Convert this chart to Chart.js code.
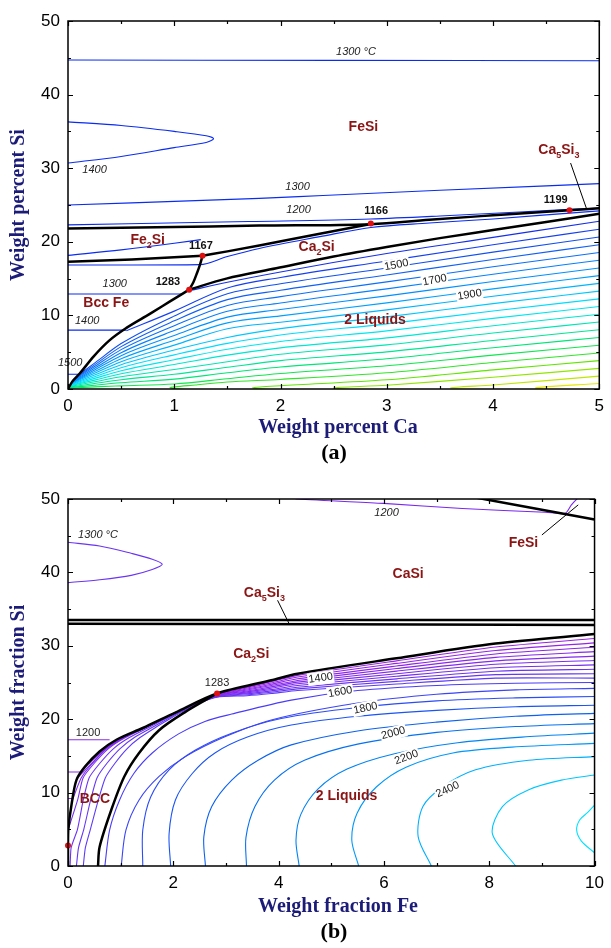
<!DOCTYPE html>
<html>
<head>
<meta charset="utf-8">
<script src="https://cdn.jsdelivr.net/npm/chart.js@4"></script>
<style>
  body { margin: 0; background: #fff; width: 611px; height: 948px; overflow: hidden; position: relative; }
  canvas { position: absolute; left: 0; }
</style>
</head>
<body>
<canvas id="chartA" width="611" height="470" style="top:0"></canvas>
<canvas id="chartB" width="611" height="478" style="top:470px"></canvas>
<script>
// ---------- panel (a): weight percent Ca vs weight percent Si ----------
const aIso1300Top = [[0, 44.7], [2.5, 44.65], [5, 44.6]];
const aLoop1400 = [[0, 36.3], [0.5, 35.8], [1.0, 35.0], [1.3, 34.4], [1.37, 34.0], [1.3, 33.5], [1.0, 32.8], [0.5, 31.6], [0, 30.7]];
const aIso1300 = [[0, 25.0], [1.8, 25.9], [2.4, 26.3], [3.5, 27.0], [5, 27.9]];
const aIso1200 = [[0, 22.3], [1.7, 22.75], [2.85, 23.1], [3.5, 23.5], [4.72, 24.4], [5, 24.6]];
const aFe2SiUpper = [[0, 18.15], [0.5, 18.9], [1.0, 19.8], [1.25, 20.3]];
const aFe2SiLower = [[0, 16.85], [0.6, 16.85], [1.24, 16.9], [1.5, 18.0], [1.8, 19.1], [2.37, 20.7], [2.85, 21.95], [3.4, 22.55], [4.0, 23.1], [4.72, 23.9], [5, 24.2]];
const aBcc1300 = [[0, 12.9], [1.08, 12.9]];
const aBcc1400 = [[0, 8.0], [0.55, 8.0]];
const aBcc1500 = [[0, 2.0], [0.1, 2.0]];

const aFe2SiTop = [[0, 21.8], [1.0, 22.0], [1.8, 22.2], [2.85, 22.4], [3.4, 23.0], [4.0, 23.6], [4.72, 24.3], [5, 24.55]];
const aFe2SiBottom = [[0, 17.3], [0.6, 17.6], [1.266, 18.1]];
const aCa2SiTop = [[1.266, 18.1], [1.5, 18.7], [1.8, 19.5], [2.37, 21.1], [2.85, 22.4]];
const aPeritectic = [[1.266, 18.1], [1.24, 16.8], [1.21, 15.6], [1.18, 14.5], [1.14, 13.5]];
const aLiquidusLow = [[0, 0], [0.04, 1.0], [0.11, 2.1], [0.24, 4.4], [0.39, 6.6], [0.55, 8.3], [0.77, 10.2], [0.96, 11.9], [1.14, 13.5]];
const aLiquidusHigh = [[1.14, 13.5], [1.49, 15.0], [1.96, 16.4], [2.5, 18.0], [3, 19.3], [3.5, 20.5], [4, 21.6], [4.5, 22.7], [5, 23.8]];
const aPointer = [[4.73, 30.7], [4.88, 24.5]];
const aInvariants = [[1.266, 18.1], [1.14, 13.5], [2.85, 22.5], [4.72, 24.3]];

// isotherms in the two-liquid field, top to bottom
const aLiquidContours = [
  [[1.14, 13.35], [1.5, 14.5], [2, 15.9], [3, 18.4], [4, 20.6], [5, 22.8]],
  [[0.55, 7.9], [1, 10.58], [1.5, 13.72], [2, 15.16], [3, 17.4], [4, 19.6], [5, 21.7]],
  [[0.1, 1.9], [0.25, 3.51], [0.5, 6.17], [1, 9.92], [1.5, 12.93], [2, 14.29], [3, 16.45], [4, 18.6], [5, 20.65]],
  [[0.065, 1.4], [0.25, 3.28], [0.5, 5.76], [1, 9.26], [1.5, 12.14], [2, 13.42], [3, 15.5], [4, 17.6], [5, 19.6]],
  [[0.055, 1.25], [0.25, 3.05], [0.5, 5.35], [1, 8.6], [1.5, 11.35], [2, 12.55], [3, 14.55], [4, 16.6], [5, 18.55]],
  [[0.048, 1.1], [0.25, 2.82], [0.5, 4.94], [1, 7.94], [1.5, 10.56], [2, 11.68], [3, 13.6], [4, 15.6], [5, 17.5]],
  [[0.042, 0.95], [0.25, 2.59], [0.5, 4.53], [1, 7.28], [1.5, 9.77], [2, 10.81], [3, 12.65], [4, 14.6], [5, 16.45]],
  [[0.036, 0.85], [0.25, 2.36], [0.5, 4.12], [1, 6.62], [1.5, 8.98], [2, 9.94], [3, 11.7], [4, 13.6], [5, 15.4]],
  [[0.031, 0.75], [0.25, 2.13], [0.5, 3.71], [1, 5.96], [1.5, 8.19], [2, 9.07], [3, 10.75], [4, 12.6], [5, 14.35]],
  [[0.027, 0.65], [0.25, 1.9], [0.5, 3.3], [1, 5.3], [1.5, 7.0], [2, 8.2], [3, 9.8], [4, 11.6], [5, 13.3]],
  [[0.023, 0.55], [0.25, 1.67], [0.5, 2.89], [1, 4.64], [1.5, 6.2], [2, 7.33], [3, 8.85], [4, 10.6], [5, 12.25]],
  [[0.019, 0.47], [0.25, 1.44], [0.5, 2.48], [1, 3.98], [1.5, 5.4], [2, 6.46], [3, 7.9], [4, 9.6], [5, 11.2]],
  [[0.016, 0.4], [0.25, 1.21], [0.5, 2.07], [1, 3.32], [1.5, 4.6], [2, 5.59], [3, 6.95], [4, 8.6], [5, 10.15]],
  [[0.013, 0.32], [0.25, 0.98], [0.5, 1.66], [1, 2.66], [1.5, 3.7], [2, 4.72], [3, 6.0], [4, 7.6], [5, 9.1]],
  [[0.01, 0.25], [0.25, 0.75], [0.5, 1.25], [1, 2.0], [1.5, 2.95], [2, 3.85], [3, 5.05], [4, 6.6], [5, 8.05]],
  [[0.007, 0.18], [0.25, 0.52], [0.5, 0.84], [1, 1.34], [1.5, 2.2], [2, 2.98], [3, 4.1], [4, 5.6], [5, 7.0]],
  [[0.004, 0.1], [0.25, 0.29], [0.5, 0.43], [1, 0.68], [1.5, 1.4], [2, 2.11], [3, 3.15], [4, 4.6], [5, 5.95]],
  [[1.3, -0.3], [0.96, 0.15], [1.2, 0.55], [1.5, 0.95], [2, 1.3], [3, 2.2], [4, 3.6], [5, 4.9]],
  [[2.1, -0.3], [1.74, 0.15], [2, 0.45], [3, 1.25], [4, 2.6], [5, 3.85]],
  [[2.9, -0.3], [2.5, 0.15], [3, 0.5], [4, 1.6], [5, 2.8]],
  [[4.0, -0.3], [3.6, 0.15], [4, 0.55], [5, 1.75]],
  [[4.8, -0.3], [4.4, 0.15], [5, 0.75]]
];
const aContourColors = ['#1530e8', '#1540f0', '#1050f0', '#1060f5', '#0a70fa', '#0580ff', '#0090ff', '#00a0ff', '#00b4ff', '#00c8ff', '#00dcff', '#00e6f0',
  '#00e6d2', '#00e6b4', '#00e696', '#00e678', '#10e650', '#30e628', '#60e600', '#90e600', '#c0e600', '#e6e600'];

const aLabels = [
  { t: 'FeSi', x: 2.78, y: 35.6, s: 'phase' },
  { t: 'Ca_5Si_3', x: 4.62, y: 32.5, s: 'phase' },
  { t: 'Fe_2Si', x: 0.75, y: 20.2, s: 'phase' },
  { t: 'Ca_2Si', x: 2.34, y: 19.3, s: 'phase' },
  { t: 'Bcc Fe', x: 0.36, y: 11.7, s: 'phase' },
  { t: '2 Liquids', x: 2.89, y: 9.3, s: 'phase' },
  { t: '1167', x: 1.25, y: 19.5, s: 'temp' },
  { t: '1283', x: 0.94, y: 14.5, s: 'temp' },
  { t: '1166', x: 2.9, y: 24.2, s: 'temp' },
  { t: '1199', x: 4.59, y: 25.7, s: 'temp' },
  { t: '1300 °C', x: 2.71, y: 45.8, s: 'iso' },
  { t: '1400', x: 0.25, y: 29.7, s: 'iso' },
  { t: '1300', x: 2.16, y: 27.4, s: 'iso' },
  { t: '1200', x: 2.17, y: 24.3, s: 'iso' },
  { t: '1300', x: 0.44, y: 14.3, s: 'iso' },
  { t: '1400', x: 0.18, y: 9.3, s: 'iso' },
  { t: '1500', x: 0.02, y: 3.5, s: 'iso' },
  { t: '1500', x: 3.09, y: 16.85, s: 'ctr', r: -11, bg: true },
  { t: '1700', x: 3.45, y: 14.8, s: 'ctr', r: -11, bg: true },
  { t: '1900', x: 3.78, y: 12.8, s: 'ctr', r: -9, bg: true }
];

// ---------- panel (b): weight fraction Fe vs weight fraction Si ----------
const bLoop1300 = [[0, 44.1], [0.6, 43.6], [1.2, 42.6], [1.6, 41.8], [1.79, 41.1], [1.6, 40.4], [1.2, 39.6], [0.6, 39.0], [0, 38.6]];
const bIso1200Top = [[4.2, 50.3], [4.36, 50.0], [5.99, 49.4], [7.49, 48.7], [9.06, 48.2], [9.44, 48.05], [9.56, 49.2], [9.69, 50.2]];
const bBcc1200 = [[0, 17.2], [0.79, 17.2]];
const bBcc1300 = [[0, 12.8], [0.29, 12.8]];
const bBcc1400 = [[0, 9.2], [0.1, 9.2]];

const bLiquidus = [[0, 0], [0, 2.8], [0.005, 4.9], [0.07, 8.5], [0.16, 11.7], [0.32, 13.5], [0.6, 15.6], [0.92, 17.2], [1.42, 18.8], [2.04, 20.9], [2.83, 23.5], [3.86, 25.3], [4.36, 26.2], [6.24, 28.3], [8.12, 30.3], [10, 31.6]];
const bSolvus = [[0.57, 0], [0.6, 2.6], [0.82, 7.6], [1.07, 12.2], [1.35, 15.4], [1.73, 18.5], [2.23, 21.0], [2.83, 23.5]];
const bCa5Si3Top = [[0, 33.5], [10, 33.5]];
const bCa5Si3Bottom = [[0, 33.0], [10, 32.85]];
const bFeSiLine = [[7.74, 50.2], [10, 47.2]];
const bPointerCa5Si3 = [[3.98, 36.2], [4.2, 33.0]];
const bPointerFeSi = [[9.0, 45.1], [9.69, 49.2]];
const bInvariants = [[2.83, 23.5], [0, 2.8]];

// isotherms squeezed between liquidus and solvus, top to bottom
const bNarrowContours = [
  [[1.48, 19], [1.774, 20], [2.072, 21], [2.371, 22], [2.83, 23.45], [3.4, 24.37], [3.86, 25.12], [4.36, 25.97], [6.24, 27.95], [8.12, 29.83], [10, 31.0]],
  [[1.02, 17.5], [1.489, 19], [1.776, 20], [2.074, 21], [2.372, 22], [2.83, 23.4], [3.4, 24.24], [3.86, 24.94], [4.36, 25.74], [6.24, 27.6], [8.12, 29.36], [10, 30.4]],
  [[0.68, 16], [1.04, 17.5], [1.49, 19], [1.779, 20], [2.076, 21], [2.373, 22], [2.83, 23.35], [3.4, 24.11], [3.86, 24.76], [4.36, 25.51], [6.24, 27.25], [8.12, 28.89], [10, 29.8]],
  [[0.4, 14], [0.713, 16], [1.046, 17.5], [1.496, 19], [1.781, 20], [2.077, 21], [2.374, 22], [2.83, 23.3], [3.4, 23.98], [3.86, 24.58], [4.36, 25.28], [6.24, 26.9], [8.12, 28.42], [10, 29.2]],
  [[0.18, 12], [0.449, 14], [0.724, 16], [1.055, 17.5], [1.5, 19], [1.785, 20], [2.08, 21], [2.376, 22], [2.83, 23.25], [3.4, 23.85], [3.86, 24.4], [4.36, 25.05], [6.24, 26.55], [8.12, 27.95], [10, 28.6]],
  [[0.085, 9], [0.25, 12], [0.466, 14], [0.739, 16], [1.066, 17.5], [1.508, 19], [1.79, 20], [2.083, 21], [2.378, 22], [2.83, 23.2], [3.4, 23.72], [3.86, 24.22], [4.36, 24.82], [6.24, 26.2], [8.12, 27.48], [10, 28.0]],
  [[0.005, 5], [0.183, 9], [0.286, 12], [0.498, 14], [0.769, 16], [1.09, 17.5], [1.522, 19], [1.8, 20], [2.089, 21], [2.382, 22], [2.83, 23.15], [3.4, 23.59], [3.86, 24.04], [4.36, 24.59], [6.24, 25.85], [8.12, 27.01], [10, 27.4]],
  [[0.04, 0], [0.06, 2.5], [0.18, 5], [0.29, 9], [0.4, 12], [0.605, 14], [0.865, 16], [1.165, 17.5], [1.57, 19], [1.83, 20], [2.11, 21], [2.395, 22], [2.83, 23.1], [3.4, 23.46], [3.86, 23.86], [4.36, 24.36], [6.24, 25.5], [8.12, 26.54], [10, 26.8]],
  [[0.16, 0], [0.2, 2.5], [0.3, 5], [0.43, 9], [0.55, 12], [0.74, 14], [0.99, 16], [1.26, 17.5], [1.63, 19], [1.875, 20], [2.137, 21], [2.41, 22], [2.83, 23.05], [3.4, 23.33], [3.86, 23.68], [4.36, 24.13], [6.24, 25.15], [8.12, 26.07], [10, 26.2]],
  [[0.29, 0], [0.33, 2.5], [0.425, 5], [0.577, 9], [0.708, 12], [0.892, 14], [1.124, 16], [1.368, 17.5], [1.69, 19], [1.92, 20], [2.166, 21], [2.43, 22], [2.83, 23.0], [3.4, 23.2], [3.86, 23.5], [4.36, 23.9], [6.24, 24.8], [8.12, 25.6], [10, 25.6]]
];
const bNarrowColors = ['#9a22e6', '#9424e8', '#8e26ea', '#8828ec', '#822aee', '#7c2cf0', '#762ef2', '#6e32f4', '#6636f6', '#5e3af8'];

// isotherms 1600 .. 2600 in the two-liquid field
const bLiquidContours = [
  [[0.7, 0], [0.79, 4.9], [0.98, 9.0], [1.25, 12.6], [1.6, 15.4], [2.1, 18.0], [2.6, 19.7], [3.11, 20.7], [4.24, 22.6], [5.5, 23.9], [7, 24.6], [8.5, 24.9], [10, 25.0]],
  [[1.01, 0], [1.1, 4.9], [1.35, 9.0], [1.73, 12.2], [2.23, 14.9], [2.98, 17.6], [3.86, 19.9], [5.5, 22.2], [7, 23.4], [8.5, 24.0], [10, 24.2]],
  [[1.42, 0], [1.42, 4.9], [1.57, 9.4], [1.92, 13.1], [2.42, 15.8], [3.11, 18.1], [4.05, 20.1], [5.5, 21.6], [7, 22.5], [8.5, 22.9], [10, 23.1]],
  [[1.95, 0], [1.92, 4.4], [2.04, 9.0], [2.36, 12.6], [2.79, 15.4], [3.42, 17.6], [4.24, 19.2], [5.5, 20.4], [7, 21.2], [8.5, 21.7], [10, 21.9]],
  [[2.61, 0], [2.58, 4.0], [2.73, 8.1], [3.11, 11.7], [3.61, 14.4], [4.24, 16.5], [5.5, 18.4], [7, 19.6], [8.5, 20.4], [10, 20.8]],
  [[3.39, 0], [3.38, 3.9], [3.55, 8.1], [3.92, 11.7], [4.49, 14.4], [5.5, 16.6], [7, 18.2], [8.5, 19.0], [10, 19.4]],
  [[4.39, 0], [4.33, 3.5], [4.42, 7.0], [4.75, 10.5], [5.3, 13.2], [6.2, 15.3], [7.4, 16.8], [8.7, 17.6], [10, 18.1]],
  [[5.52, 0], [5.39, 3.5], [5.49, 7.2], [5.86, 10.8], [6.43, 13.5], [7.31, 15.4], [8.43, 16.2], [10, 16.7]],
  [[6.9, 0], [6.65, 4.0], [6.74, 8.1], [7.12, 10.8], [7.74, 13.1], [8.75, 14.4], [10, 14.9]],
  [[8.5, 0], [8.06, 4.4], [8.25, 8.1], [8.75, 10.4], [9.37, 11.7], [10, 12.4]],
  [[10, 1.8], [9.75, 3.4], [9.66, 4.9], [9.72, 6.3], [9.87, 7.3], [10, 8.3]]
];
const bLiquidColors = ['#4a3cf8', '#3a44f8', '#2a4cf6', '#1a54f4', '#0c62f0', '#0672f0', '#0084f4', '#0098fa', '#00b0ff', '#00c8ff', '#00e0ff'];

const bLabels = [
  { t: '1300 °C', x: 0.57, y: 45.1, s: 'iso' },
  { t: '1200', x: 6.05, y: 48.1, s: 'iso' },
  { t: 'FeSi', x: 8.65, y: 44.0, s: 'phase' },
  { t: 'CaSi', x: 6.46, y: 39.8, s: 'phase' },
  { t: 'Ca_5Si_3', x: 3.73, y: 37.2, s: 'phase' },
  { t: 'Ca_2Si', x: 3.48, y: 28.8, s: 'phase' },
  { t: 'BCC', x: 0.51, y: 9.1, s: 'phase' },
  { t: '2 Liquids', x: 5.29, y: 9.5, s: 'phase' },
  { t: '1283', x: 2.83, y: 24.9, s: 'ctr' },
  { t: '1200', x: 0.38, y: 18.1, s: 'ctr' },
  { t: '1400', x: 4.8, y: 25.6, s: 'ctr', r: -8, bg: true },
  { t: '1600', x: 5.17, y: 23.7, s: 'ctr', r: -10, bg: true },
  { t: '1800', x: 5.65, y: 21.5, s: 'ctr', r: -12, bg: true },
  { t: '2000', x: 6.18, y: 18.1, s: 'ctr', r: -15, bg: true },
  { t: '2200', x: 6.43, y: 14.8, s: 'ctr', r: -20, bg: true },
  { t: '2400', x: 7.21, y: 10.4, s: 'ctr', r: -25, bg: true }
];

// ---------- drawing helpers ----------
const SANS = '"Liberation Sans", Arial, sans-serif';
const SERIF = '"Liberation Serif", "Times New Roman", serif';
const labelStyles = {
  phase: { font: 'bold 14px ' + SANS, sub: 'bold 9px ' + SANS, color: '#8b1414', size: 14 },
  temp: { font: 'bold 11px ' + SANS, sub: 'bold 8px ' + SANS, color: '#111', size: 11 },
  iso: { font: 'italic 11px ' + SANS, sub: 'italic 8px ' + SANS, color: '#222', size: 11 },
  ctr: { font: '11px ' + SANS, sub: '8px ' + SANS, color: '#222', size: 11 }
};

function line(pts, color, width, tension) {
  const ds = {
    data: pts.map(p => ({ x: p[0], y: p[1] })),
    showLine: true,
    borderColor: color,
    borderWidth: width,
    pointRadius: 0,
    pointHoverRadius: 0,
    fill: false
  };
  // 'smooth' = x-ordered curve, drawn with monotone cubic interpolation
  if (tension === 'smooth') ds.cubicInterpolationMode = 'monotone';
  else ds.tension = tension === undefined ? 0.3 : tension;
  return ds;
}

function dots(pts) {
  return {
    data: pts.map(p => ({ x: p[0], y: p[1] })),
    pointRadius: 3,
    pointBackgroundColor: '#e01010',
    pointBorderWidth: 0,
    clip: false
  };
}

function drawLabel(chart, L) {
  const ctx = chart.ctx;
  const st = labelStyles[L.s];
  const px = chart.scales.x.getPixelForValue(L.x);
  const py = chart.scales.y.getPixelForValue(L.y);
  ctx.save();
  ctx.translate(px, py);
  if (L.r) ctx.rotate(L.r * Math.PI / 180);
  let w = 0;
  const segs = L.t.split(/(_\d)/).filter(Boolean).map(p => {
    const sub = p[0] === '_';
    const txt = sub ? p.slice(1) : p;
    ctx.font = sub ? st.sub : st.font;
    const m = ctx.measureText(txt).width;
    w += m;
    return { txt, sub, m };
  });
  if (L.bg) {
    ctx.fillStyle = '#fff';
    ctx.fillRect(-w / 2 - 1, -st.size / 2 - 1, w + 2, st.size + 2);
  }
  ctx.fillStyle = st.color;
  ctx.textBaseline = 'middle';
  ctx.textAlign = 'left';
  let cx = -w / 2;
  segs.forEach(s => {
    ctx.font = s.sub ? st.sub : st.font;
    ctx.fillText(s.txt, cx, s.sub ? st.size * 0.38 : 0);
    cx += s.m;
  });
  ctx.restore();
}

const frame = {
  id: 'frame',
  afterDatasetsDraw(chart, args, o) {
    o.labels.forEach(L => drawLabel(chart, L));
  },
  afterDraw(chart, args, o) {
    const { ctx, chartArea: a, scales: { x, y } } = chart;
    ctx.save();
    ctx.strokeStyle = '#000';
    ctx.lineWidth = 1.2;
    ctx.beginPath();
    for (let v = x.min; v <= x.max + 1e-9; v += o.xMinor) {
      const px = Math.round(x.getPixelForValue(v)) + 0.5;
      const len = Math.abs(v / o.xMajor - Math.round(v / o.xMajor)) < 1e-6 ? 5 : 3;
      ctx.moveTo(px, a.bottom); ctx.lineTo(px, a.bottom - len);
      ctx.moveTo(px, a.top); ctx.lineTo(px, a.top + len);
    }
    for (let v = y.min; v <= y.max + 1e-9; v += 5) {
      const py = Math.round(y.getPixelForValue(v)) + 0.5;
      const len = v % 10 === 0 ? 5 : 3;
      ctx.moveTo(a.left, py); ctx.lineTo(a.left + len, py);
      ctx.moveTo(a.right, py); ctx.lineTo(a.right - len, py);
    }
    ctx.stroke();
    ctx.lineWidth = 1.5;
    ctx.strokeRect(a.left, a.top, a.right - a.left, a.bottom - a.top);

    ctx.fillStyle = '#1c1c78';
    ctx.font = 'bold 20px ' + SERIF;
    ctx.textAlign = 'center';
    ctx.textBaseline = 'middle';
    ctx.fillText(o.xTitle, 338, o.xTitleY);
    ctx.save();
    ctx.translate(19, (a.top + a.bottom) / 2);
    ctx.rotate(-Math.PI / 2);
    ctx.fillText(o.yTitle, 0, 0);
    ctx.restore();
    ctx.fillStyle = '#000';
    ctx.font = 'bold 22px ' + SERIF;
    ctx.fillText(o.letter, 334, o.letterY);
    ctx.restore();
  }
};

function makeOptions(xMax, xStep, topPad, xHeight, frameOpts) {
  return {
    responsive: false,
    animation: false,
    devicePixelRatio: 1,
    events: [],
    layout: { padding: { top: topPad, right: 11, left: 0, bottom: 0 } },
    plugins: { legend: { display: false }, tooltip: { enabled: false }, frame: frameOpts },
    scales: {
      x: {
        type: 'linear', min: 0, max: xMax,
        grid: { display: false, drawTicks: false },
        border: { display: false },
        ticks: { stepSize: xStep, padding: 7, color: '#000', font: { family: SANS, size: 17 } },
        afterFit: s => { s.height = xHeight; }
      },
      y: {
        type: 'linear', min: 0, max: 50,
        grid: { display: false, drawTicks: false },
        border: { display: false },
        ticks: { stepSize: 10, padding: 8, color: '#000', font: { family: SANS, size: 17 } },
        afterFit: s => { s.width = 68; }
      }
    }
  };
}

// ---------- chart (a) ----------
const aSets = [];
aSets.push(dots(aInvariants));
[aFe2SiTop, aFe2SiBottom, aCa2SiTop, aLiquidusLow, aLiquidusHigh].forEach(p => aSets.push(line(p, '#000', 2.5, 'smooth')));
aSets.push(line(aPeritectic, '#000', 2.5, 0.3));
aSets.push(line(aPointer, '#000', 1, 0));
[aIso1300Top, aIso1300, aIso1200, aFe2SiUpper, aFe2SiLower, aBcc1300, aBcc1400, aBcc1500]
  .forEach(p => aSets.push(line(p, '#0a2cf0', 1.1, 'smooth')));
aSets.push(line(aLoop1400, '#0a2cf0', 1.1, 0.3));
aLiquidContours.forEach((p, i) => aSets.push(line(p, aContourColors[i], 1.1, i < 17 ? 'smooth' : 0.3)));

new Chart(document.getElementById('chartA'), {
  type: 'scatter',
  data: { datasets: aSets },
  options: makeOptions(5, 1, 21, 81, {
    labels: aLabels, xMinor: 0.5, xMajor: 1,
    xTitle: 'Weight percent Ca', yTitle: 'Weight percent Si', letter: '(a)',
    xTitleY: 428, letterY: 453
  }),
  plugins: [frame]
});

// ---------- chart (b) ----------
const bSets = [];
bSets.push(dots(bInvariants));
[bLiquidus, bSolvus, bCa5Si3Top, bCa5Si3Bottom, bFeSiLine].forEach(p => bSets.push(line(p, '#000', 2.5, 0.3)));
[bPointerCa5Si3, bPointerFeSi].forEach(p => bSets.push(line(p, '#000', 1, 0)));
bSets.push(line(bLoop1300, '#6a34f2', 1.1, 0.3));
bSets.push(line(bIso1200Top, '#7a26f0', 1.1, 0.25));
[bBcc1200, bBcc1300, bBcc1400].forEach(p => bSets.push(line(p, '#8a2ee6', 1.1, 0)));
bNarrowContours.forEach((p, i) => bSets.push(line(p, bNarrowColors[i], 1.1, 0.2)));
bLiquidContours.forEach((p, i) => bSets.push(line(p, bLiquidColors[i], 1.1, 0.3)));

new Chart(document.getElementById('chartB'), {
  type: 'scatter',
  data: { datasets: bSets },
  options: makeOptions(10, 2, 29, 82, {
    labels: bLabels, xMinor: 1, xMajor: 2,
    xTitle: 'Weight fraction Fe', yTitle: 'Weight fraction Si', letter: '(b)',
    xTitleY: 437, letterY: 462
  }),
  plugins: [frame]
});
</script>
</body>
</html>
